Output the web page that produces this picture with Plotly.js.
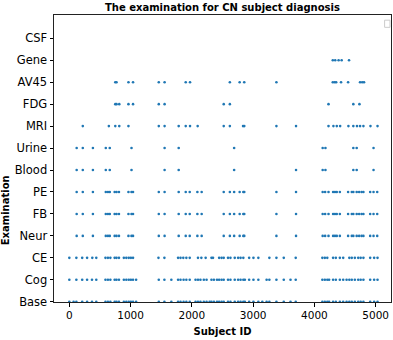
<!DOCTYPE html>
<html>
<head>
<meta charset="utf-8">
<script src="https://cdn.plot.ly/plotly-3.0.1.min.js"></script>
<style>
    html, body { margin: 0; padding: 0; background: #fff; }
    #chart { width: 393px; height: 340px; }
</style>
</head>
<body>
<div id="chart"></div>
<script>
// Exam rows, bottom to top
const exams = ['Base', 'Cog', 'CE', 'Neur', 'FB', 'PE', 'Blood', 'Urine', 'MRI', 'FDG', 'AV45', 'Gene', 'CSF'];

// Subject IDs that have each examination
const baseIds = [0, 70, 115, 210, 290, 370, 440, 590, 630, 670, 740, 770, 810, 890, 930, 970, 1005, 1040, 1090,
    1460, 1552, 1665, 1775, 1815, 1865, 1910, 1965, 2060, 2100, 2140, 2195, 2240, 2290, 2320, 2360, 2410, 2445,
    2485, 2520, 2590, 2630, 2700, 2755, 2795, 2840, 2865, 2935, 3005, 3085, 3150, 3220, 3265, 3380, 3500, 3610,
    3695, 4130, 4170, 4210, 4240, 4305, 4350, 4415, 4470, 4525, 4570, 4610, 4660, 4715, 4755, 4800, 4910, 4975, 5030];
const cogIds = [0, 115, 210, 290, 370, 440, 590, 630, 670, 740, 770, 810, 890, 930, 970, 1005, 1040, 1090,
    1460, 1552, 1665, 1775, 1815, 1865, 1910, 1965, 2060, 2100, 2140, 2195, 2240, 2320, 2360, 2410, 2445,
    2485, 2520, 2590, 2630, 2700, 2755, 2795, 2840, 2865, 2935, 3005, 3085, 3220, 3265, 3380, 3500, 3610,
    3695, 4130, 4170, 4210, 4240, 4305, 4350, 4415, 4470, 4525, 4570, 4610, 4660, 4715, 4755, 4800, 4910, 4975, 5030];
const ceIds = [0, 115, 210, 290, 375, 440, 590, 630, 670, 740, 770, 810, 890, 930, 970, 1005, 1040,
    1455, 1552, 1775, 1815, 1860, 1910, 1965, 2100, 2155, 2225, 2320, 2345, 2445, 2485, 2520, 2590, 2630,
    2700, 2755, 2795, 2840, 2935, 3005, 3085, 3265, 3380, 3500, 3695, 4130, 4170, 4210, 4305, 4350, 4415,
    4470, 4570, 4610, 4660, 4715, 4755, 4800, 4910, 4975, 5030];
const neurIds = [120, 220, 385, 595, 630, 660, 740, 770, 810, 965, 1015, 1040, 1460, 1555, 1785, 1900, 1965,
    2090, 2160, 2520, 2620, 2690, 2780, 2840, 2855, 3380, 3700, 4135, 4175, 4230, 4305, 4335, 4365, 4415,
    4550, 4610, 4635, 4690, 4730, 4770, 4800, 4910, 4965, 5025];
const fbIds = [120, 220, 385, 595, 630, 660, 740, 770, 810, 965, 1015, 1040, 1460, 1555, 1785, 1900, 1965,
    2090, 2160, 2520, 2620, 2690, 2780, 2840, 2855, 3380, 3700, 4135, 4175, 4230, 4305, 4335, 4365, 4415,
    4550, 4610, 4635, 4690, 4730, 4770, 4800, 4910, 4965, 5025];
const peIds = [120, 220, 385, 595, 630, 660, 740, 770, 810, 965, 1015, 1040, 1460, 1555, 1785, 1900, 1965,
    2090, 2160, 2520, 2620, 2690, 2780, 2840, 2855, 3380, 3700, 4135, 4175, 4230, 4305, 4335, 4365, 4415,
    4550, 4610, 4635, 4690, 4730, 4770, 4800, 4910, 4965, 5025];
const bloodIds = [120, 220, 385, 595, 660, 1015, 1555, 1785, 2690, 3700, 4135, 4180, 4635, 4690, 4965];
const urineIds = [120, 220, 385, 595, 660, 1015, 1555, 1785, 2690, 4135, 4180, 4635, 4690, 4965];
const mriIds = [220, 645, 750, 815, 965, 1460, 1555, 1785, 1900, 1970, 2095, 2520, 2620, 2835, 2855, 3380,
    3700, 4230, 4310, 4365, 4420, 4555, 4635, 4695, 4745, 4800, 4915, 5030];
const fdgIds = [750, 770, 815, 965, 1040, 1460, 1555, 2520, 2620, 4230, 4635, 4735];
const av45Ids = [750, 770, 965, 1040, 1460, 1555, 1900, 1970, 2620, 2780, 2855, 3380, 4300, 4330, 4355,
    4435, 4550, 4745, 4780, 4810];
const geneIds = [4300, 4340, 4395, 4445, 4565];
const csfIds = [];

const xTicks = [0, 1000, 2000, 3000, 4000, 5000];

const idsByExam = [baseIds, cogIds, ceIds, neurIds, fbIds, peIds, bloodIds, urineIds,
    mriIds, fdgIds, av45Ids, geneIds, csfIds];

const font = 'DejaVu Sans, Verdana, sans-serif';

const traces = exams.map((exam, i) => ({
    x: idsByExam[i],
    y: idsByExam[i].map(() => exam),
    type: 'scatter',
    mode: 'markers',
    name: exam,
    marker: { color: '#1f77b4', size: 2.6 },
    showlegend: false,
    cliponaxis: true
}));

const layout = {
    width: 393,
    height: 340,
    margin: { l: 54, r: 2, t: 15, b: 38 },
    paper_bgcolor: '#fff',
    plot_bgcolor: '#fff',
    font: { family: font, color: '#000', size: 10.5 },
    title: {
        text: '<b>The examination for CN subject diagnosis</b>',
        font: { family: font, size: 10, color: '#000' },
        x: 0.566, xanchor: 'center',
        yref: 'container', y: 0.978, yanchor: 'middle'
    },
    xaxis: {
        range: [-250, 5250],
        tickvals: xTicks,
        ticktext: xTicks.map(String),
        ticks: 'outside', ticklen: 3.5, tickcolor: '#000',
        showgrid: false, zeroline: false,
        showline: true, linecolor: '#222', linewidth: 1, mirror: true,
        tickfont: { size: 10.5 },
        title: { text: '<b>Subject ID</b>', font: { size: 10 }, standoff: 7 }
    },
    yaxis: {
        type: 'category',
        categoryorder: 'array',
        categoryarray: exams,
        range: [-0.01, 13.06],
        ticks: 'outside', ticklen: 3.5, tickcolor: '#000',
        showgrid: false, zeroline: false,
        showline: true, linecolor: '#222', linewidth: 1, mirror: true,
        tickfont: { size: 11.5 }
    },
    annotations: [{
        text: '<b>Examination</b>',
        textangle: -90,
        xref: 'paper', yref: 'paper',
        x: -0.145, y: 0.32,
        xanchor: 'center', yanchor: 'middle',
        showarrow: false,
        font: { size: 10, color: '#000' }
    }],
    shapes: [{
        // empty legend box
        type: 'rect', xref: 'paper', yref: 'paper',
        x0: 0.981, x1: 0.997, y0: 0.957, y1: 0.982,
        line: { color: '#ccc', width: 1 }, fillcolor: 'rgba(255,255,255,0.8)'
    }]
};

Plotly.newPlot('chart', traces, layout, { displayModeBar: false, staticPlot: true });
</script>
</body>
</html>
